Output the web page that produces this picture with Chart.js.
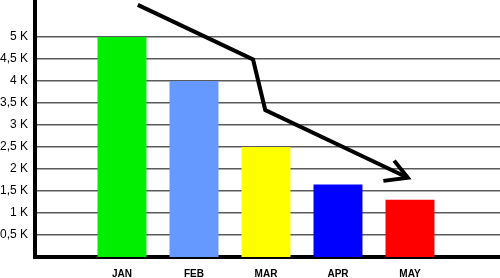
<!DOCTYPE html>
<html>
<head>
<meta charset="utf-8">
<script src="https://cdn.jsdelivr.net/npm/chart.js@4/dist/chart.umd.min.js"></script>
<style>
  html, body { margin: 0; padding: 0; background: #fff; }
  #wrap { width: 500px; height: 278px; }
</style>
</head>
<body>
<div id="wrap"><canvas id="chart"></canvas></div>
<script>
const months = ['JAN', 'FEB', 'MAR', 'APR', 'MAY']
const sales = [5, 4, 2.5, 1.65, 1.3]
const barColors = ['#00ee00', '#6699ff', '#ffff00', '#0000ff', '#ff0000']

// trend arrow, in chart units (x = month index, y = K)
const trendX = [1.22, 2.82, 2.99, 4.97]
const trendY = [5.73, 4.49, 3.34, 1.80]
const headX = [4.63, 4.97, 4.78]
const headY = [1.73, 1.80, 2.19]

const toPts = (xs, ys) => xs.map((x, i) => ({ x, y: ys[i] }))
const noPad = s => { s.paddingTop = 0; s.paddingBottom = 0; s.paddingLeft = 0; s.paddingRight = 0 }

new Chart(document.getElementById('chart'), {
  type: 'bar',
  data: {
    datasets: [
      {
        type: 'line', data: toPts(trendX, trendY), borderColor: '#000', borderWidth: 4,
        pointRadius: 0, tension: 0, clip: false, borderJoinStyle: 'miter', order: 0
      },
      {
        type: 'line', data: toPts(headX, headY), borderColor: '#000', borderWidth: 4,
        pointRadius: 0, tension: 0, clip: false, borderJoinStyle: 'miter', order: 0
      },
      {
        data: months.map((m, i) => ({ x: i + 1, y: sales[i] })),
        backgroundColor: barColors, borderWidth: 0,
        barPercentage: 0.68, categoryPercentage: 1, order: 1
      }
    ]
  },
  options: {
    responsive: true,
    maintainAspectRatio: false,
    animation: false,
    layout: { padding: 0 },
    plugins: { legend: { display: false }, tooltip: { enabled: false } },
    scales: {
      x: {
        type: 'linear', min: -0.208, max: 6.25, offset: false,
        afterFit: s => { s.height = 21; noPad(s) },
        grid: { display: false, drawTicks: false },
        border: { color: '#000', width: 4 },
        ticks: {
          stepSize: 1, includeBounds: false, padding: 11, autoSkip: false, maxRotation: 0,
          color: '#000', font: { family: 'Liberation Sans', size: 10, weight: 'bold' },
          callback: v => months[v - 1] || ''
        }
      },
      y: {
        min: 0, max: 5.84,
        afterFit: s => { s.width = 35; noPad(s) },
        afterBuildTicks: s => { s.ticks = s.ticks.filter(t => t.value > 0 && t.value <= 5) },
        grid: { color: '#5a5a5a', lineWidth: 1.5, drawTicks: false },
        border: { color: '#000', width: 4 },
        ticks: {
          stepSize: 0.5, includeBounds: false, padding: 7,
          color: '#000', font: { family: 'Liberation Sans', size: 12 },
          callback: v => String(v).replace('.', ',') + ' K'
        }
      }
    }
  }
})
</script>
</body>
</html>
